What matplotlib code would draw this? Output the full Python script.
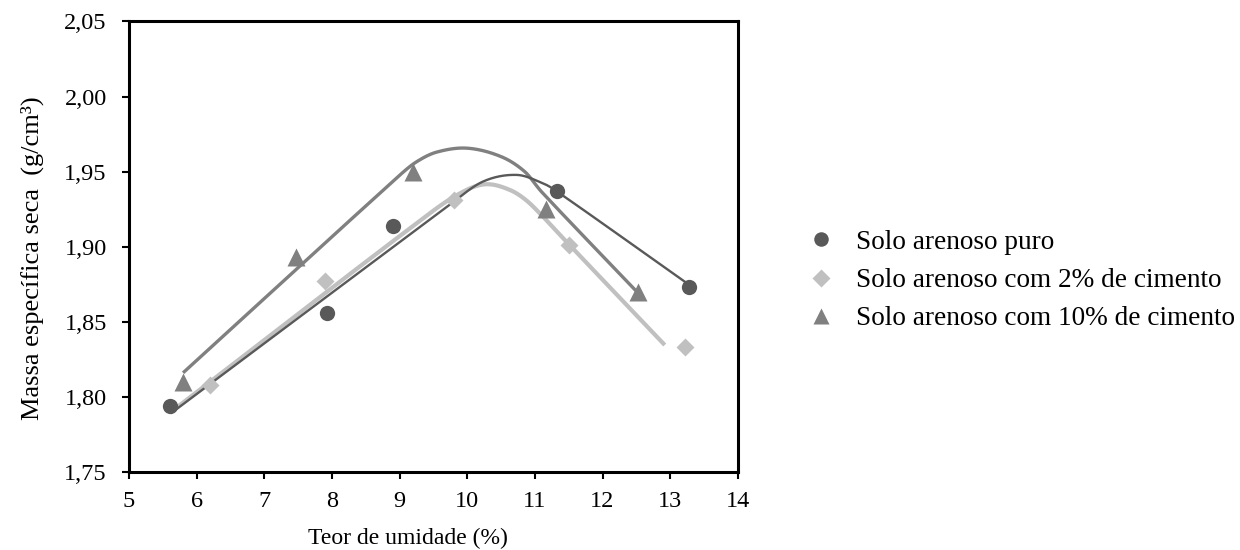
import numpy as np
import matplotlib
matplotlib.use("Agg")
import matplotlib.pyplot as plt
from matplotlib.ticker import FixedLocator, FuncFormatter

plt.rcParams['font.family'] = ['Liberation Serif', 'DejaVu Serif']

# Measured points: moisture content (%) vs dry density (g/cm3)
puro_x = [5.6, 7.93, 8.9, 11.32, 13.28]
puro_y = [1.794, 1.856, 1.914, 1.937, 1.873]
c2_x = [6.2, 7.9, 9.8, 11.5, 13.22]
c2_y = [1.808, 1.877, 1.931, 1.901, 1.833]
c10_x = [5.8, 7.47, 9.2, 11.17, 12.53]
c10_y = [1.81, 1.893, 1.950, 1.925, 1.870]

# Knots of the smoothed compaction curves
puro_curve_x = [5.62, 9.74, 10.23, 10.73, 11.12, 11.32, 13.3]
puro_curve_y = [1.789, 1.9278, 1.9433, 1.9478, 1.9422, 1.937, 1.874]
c2_curve_x = [5.68, 9.5, 9.99, 10.3, 10.63, 10.87, 11.12, 11.4, 12.92]
c2_curve_y = [1.792, 1.924, 1.9378, 1.9416, 1.9378, 1.931, 1.92, 1.9065, 1.8345]
c10_curve_x = [5.8, 9.0, 9.25, 9.55, 10.0, 10.5, 10.85, 11.1, 12.55]
c10_curve_y = [1.816, 1.9475, 1.9565, 1.9630, 1.9656, 1.960, 1.950, 1.9365, 1.868]

labels = ["Solo arenoso puro",
          "Solo arenoso com 2% de cimento",
          "Solo arenoso com 10% de cimento"]
x_ticks = [5, 6, 7, 8, 9, 10, 11, 12, 13, 14]
y_ticks = [1.75, 1.80, 1.85, 1.90, 1.95, 2.00, 2.05]


def smooth(xk, yk, n=40):
    """Cubic Hermite curve through knots with Catmull-Rom style tangents."""
    xk = np.asarray(xk, float)
    yk = np.asarray(yk, float)
    m = np.empty_like(yk)
    m[1:-1] = (yk[2:] - yk[:-2]) / (xk[2:] - xk[:-2])
    m[0] = (yk[1] - yk[0]) / (xk[1] - xk[0])
    m[-1] = (yk[-1] - yk[-2]) / (xk[-1] - xk[-2])
    xs, ys = [], []
    for i in range(len(xk) - 1):
        h = xk[i + 1] - xk[i]
        t = np.linspace(0, 1, n, endpoint=(i == len(xk) - 2))
        h00 = 2 * t**3 - 3 * t**2 + 1
        h10 = t**3 - 2 * t**2 + t
        h01 = -2 * t**3 + 3 * t**2
        h11 = t**3 - t**2
        xs.append(xk[i] + t * h)
        ys.append(h00 * yk[i] + h10 * h * m[i] + h01 * yk[i + 1] + h11 * h * m[i + 1])
    return np.concatenate(xs), np.concatenate(ys)


fig = plt.figure(figsize=(12.4, 5.5), dpi=100)
ax = fig.add_axes([0.104, 0.142, 0.491, 0.819])

dark = "#595959"
light = "#c0c0c0"
mid = "#808080"

cx, cy = smooth(c2_curve_x, c2_curve_y)
ax.plot(cx, cy, color=light, lw=3.0, solid_capstyle='butt', zorder=2)
cx, cy = smooth(c10_curve_x, c10_curve_y)
ax.plot(cx, cy, color=mid, lw=2.4, solid_capstyle='butt', zorder=3)
cx, cy = smooth(puro_curve_x, puro_curve_y)
ax.plot(cx, cy, color=dark, lw=1.7, solid_capstyle='butt', zorder=4)

h1, = ax.plot(puro_x, puro_y, 'o', color=dark, ms=11, mec='none', zorder=5, label=labels[0])
h2, = ax.plot(c2_x, c2_y, 'D', color=light, ms=9.5, mec='none', zorder=5, label=labels[1])
h3, = ax.plot(c10_x, c10_y, '^', color=mid, ms=12.5, mec='none', zorder=5, label=labels[2])

ax.set_xlim(5, 14)
ax.set_ylim(1.75, 2.05)
ax.xaxis.set_major_locator(FixedLocator(x_ticks))
ax.yaxis.set_major_locator(FixedLocator(y_ticks))
ax.yaxis.set_major_formatter(FuncFormatter(lambda v, p: f"{v:.2f}".replace('.', ',')))
ax.xaxis.set_major_formatter(FuncFormatter(lambda v, p: f"{v:g}"))

for s in ax.spines.values():
    s.set_linewidth(2.2)
    s.set_color('black')
ax.tick_params(axis='both', direction='out', length=5, width=1.5, labelsize=17.5, colors='black')
ax.tick_params(axis='x', pad=9)
ax.tick_params(axis='y', pad=11)

ax.set_xlabel("Teor de umidade (%)", fontsize=17, labelpad=0)
ax.xaxis.set_label_coords(0.458, -0.147)
ax.xaxis.label.set_va('center')
ax.set_ylabel("Massa específica seca  (g/cm³)", fontsize=19)
ax.yaxis.set_label_coords(-0.158, 0.475)
ax.yaxis.label.set_va('center')

fig.legend(handles=[h1, h2, h3], loc='center left', bbox_to_anchor=(0.651, 0.490),
           frameon=False, fontsize=19.6, handlelength=1.0, handletextpad=0.8,
           labelspacing=0.48, borderpad=0, borderaxespad=0, markerscale=0.95)

fig.savefig("out.png", dpi=100)
